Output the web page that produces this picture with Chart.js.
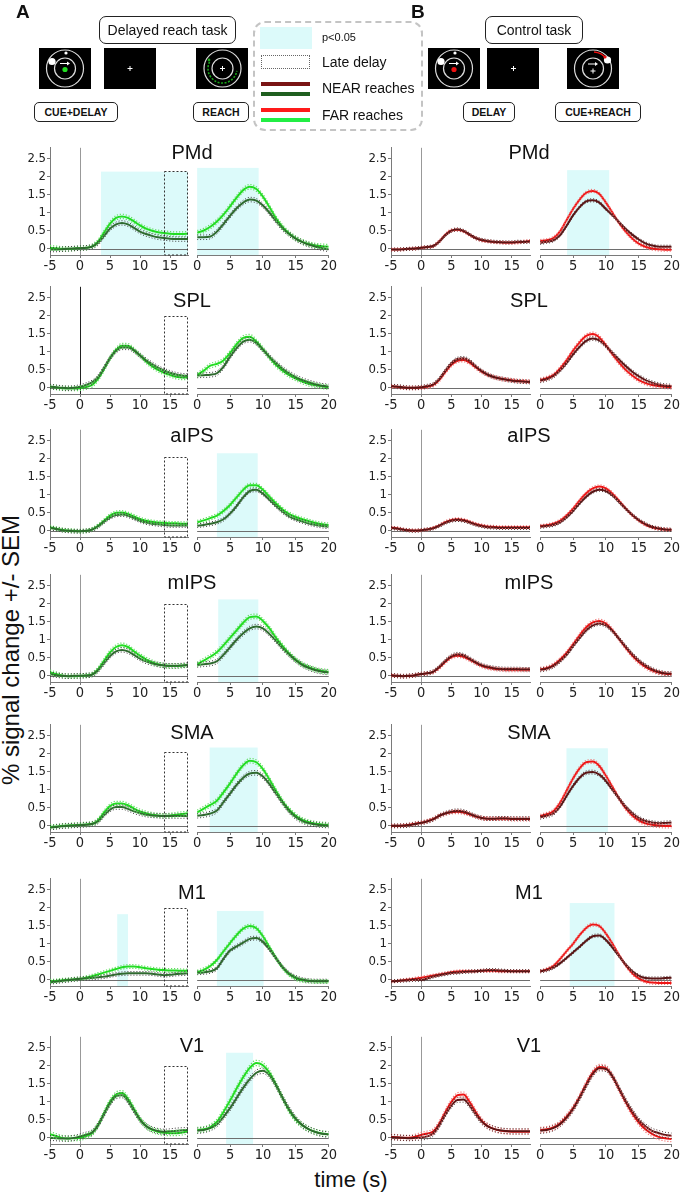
<!DOCTYPE html>
<html>
<head>
<meta charset="utf-8">
<script src="https://cdn.jsdelivr.net/npm/chart.js@4.4.0/dist/chart.umd.min.js"></script>
<style>
  body { margin: 0; background: #fff; font-family: 'Liberation Sans', Arial, sans-serif; color: #111; }
  #page { position: relative; width: 685px; height: 1201px; overflow: hidden; }
  canvas.sub { position: absolute; }
  .abs { position: absolute; white-space: nowrap; }
  .ttl { position: absolute; font-size: 20px; transform: translate(-50%, -50%); white-space: nowrap; }
  .task { position: absolute; border: 1.5px solid #222; border-radius: 7px; box-sizing: border-box;
          display: flex; align-items: center; justify-content: center; font-size: 14px; background: #fff; }
  .tag { position: absolute; border: 1.3px solid #222; border-radius: 5px; box-sizing: border-box;
         display: flex; align-items: center; justify-content: center; font-size: 10.5px; font-weight: bold; }
  .leg { position: absolute; font-size: 14px; transform: translateY(-50%); white-space: nowrap; }
</style>
</head>
<body>
<div id="page">
  <canvas id="icons" width="685" height="100" style="position:absolute;left:0;top:0"></canvas>
  <div class="abs" style="left:16px;top:1px;font-size:19px;font-weight:bold">A</div>
  <div class="abs" style="left:411px;top:1px;font-size:19px;font-weight:bold">B</div>
  <div class="task" style="left:99px;top:16px;width:137px;height:28px">Delayed reach task</div>
  <div class="task" style="left:485px;top:16px;width:98px;height:28px">Control task</div>
  <div class="tag" style="left:34px;top:102px;width:84px;height:20px">CUE+DELAY</div>
  <div class="tag" style="left:193px;top:102px;width:56px;height:20px">REACH</div>
  <div class="tag" style="left:463px;top:102px;width:52px;height:20px">DELAY</div>
  <div class="tag" style="left:555px;top:102px;width:86px;height:20px">CUE+REACH</div>

  <div style="position:absolute;left:253px;top:21px;width:170px;height:110px;box-sizing:border-box;border:2px dashed #c4c4c4;border-radius:12px"></div>
  <div style="position:absolute;left:260px;top:27px;width:52px;height:22px;background:rgb(220,250,250)"></div>
  <div class="leg" style="left:322px;top:37px;font-size:11px">p&lt;0.05</div>
  <div style="position:absolute;left:261px;top:55px;width:49px;height:14px;box-sizing:border-box;border:1px dotted #666"></div>
  <div class="leg" style="left:322px;top:62px">Late delay</div>
  <div style="position:absolute;left:261px;top:82px;width:49px;height:4px;background:#7a1414"></div>
  <div style="position:absolute;left:261px;top:92px;width:49px;height:4px;background:#1f5f1f"></div>
  <div class="leg" style="left:322px;top:88px">NEAR reaches</div>
  <div style="position:absolute;left:261px;top:108px;width:49px;height:4px;background:#ff1a1a"></div>
  <div style="position:absolute;left:261px;top:118px;width:49px;height:4px;background:#22ee44"></div>
  <div class="leg" style="left:322px;top:115px">FAR reaches</div>

  <div class="abs" style="left:11px;top:650px;font-size:24px;transform:translate(-50%,-50%) rotate(-90deg)">% signal change +/- SEM</div>
  <div class="abs" style="left:351px;top:1180px;font-size:22px;transform:translate(-50%,-50%)">time (s)</div>
</div>
<script>
// time axes (s)
const tDelay = [-5,-4,-3,-2,-1,0,1,2,3,4,5,6,7,8,9,10,11,12,13,14,15,16,17,18];
const tReach = [0,1,2,3,4,5,6,7,8,9,10,11,12,13,14,15,16,17,18,19,20];
const delayTicks = [-5, 0, 5, 10, 15];
const reachTicks = [0, 5, 10, 15, 20];
const yTicks = [0, 0.5, 1, 1.5, 2, 2.5];
const regions = ['PMd', 'SPL', 'aIPS', 'mIPS', 'SMA', 'M1', 'V1'];

// A = delayed reach task (green), B = control task (red)
const pmdDelayNearA = [-0.02,-0.02,-0.01,0,0.01,0.02,0.03,0.06,0.16,0.36,0.56,0.68,0.72,0.68,0.58,0.48,0.41,0.36,0.32,0.3,0.28,0.27,0.27,0.27];
const pmdDelayFarA  = [0.03,0.02,0,0,0.01,0.02,0.03,0.07,0.2,0.45,0.7,0.86,0.9,0.86,0.76,0.65,0.56,0.5,0.46,0.44,0.42,0.41,0.41,0.42];
const pmdReachNearA = [0.3,0.3,0.32,0.45,0.65,0.87,1.07,1.22,1.3,1.27,1.14,0.95,0.73,0.53,0.38,0.26,0.17,0.1,0.05,0.01,-0.02];
const pmdReachFarA  = [0.42,0.48,0.58,0.72,0.9,1.12,1.35,1.55,1.64,1.58,1.38,1.1,0.8,0.57,0.4,0.27,0.18,0.12,0.08,0.06,0.05];
const pmdDelayNearB = [-0.02,-0.02,-0.01,0,0.01,0.03,0.05,0.08,0.2,0.38,0.5,0.54,0.5,0.4,0.3,0.25,0.22,0.2,0.19,0.18,0.18,0.2,0.19,0.2];
const pmdDelayFarB  = [-0.02,-0.02,-0.01,0,0.01,0.03,0.05,0.08,0.21,0.39,0.51,0.53,0.49,0.39,0.3,0.24,0.21,0.19,0.18,0.17,0.17,0.18,0.2,0.22];
const pmdReachNearB = [0.15,0.18,0.22,0.35,0.6,0.88,1.1,1.25,1.28,1.22,1.05,0.88,0.7,0.52,0.37,0.24,0.14,0.08,0.05,0.05,0.05];
const pmdReachFarB  = [0.2,0.22,0.28,0.45,0.75,1.05,1.3,1.48,1.53,1.45,1.22,0.95,0.68,0.45,0.27,0.13,0.05,0,-0.02,-0.03,-0.03];

const splDelayNearA = [0.04,0.02,0,-0.01,0,0.03,0.08,0.15,0.3,0.55,0.82,1.02,1.12,1.12,1.03,0.9,0.77,0.66,0.56,0.48,0.42,0.37,0.34,0.33];
const splDelayFarA  = [0.03,0.01,-0.01,-0.02,-0.02,-0.01,0.02,0.08,0.25,0.52,0.82,1.05,1.17,1.17,1.05,0.9,0.74,0.6,0.5,0.42,0.36,0.31,0.29,0.29];
const splReachNearA = [0.32,0.33,0.34,0.38,0.55,0.82,1.05,1.22,1.27,1.18,1,0.82,0.65,0.5,0.38,0.28,0.2,0.14,0.09,0.05,0.03];
const splReachFarA  = [0.33,0.45,0.58,0.63,0.72,0.92,1.15,1.32,1.35,1.22,1.02,0.8,0.6,0.45,0.33,0.24,0.16,0.1,0.06,0.03,0.01];
const splDelayNearB = [0.05,0.04,0.02,0,0,0.02,0.05,0.1,0.25,0.48,0.68,0.8,0.82,0.75,0.6,0.47,0.37,0.3,0.26,0.23,0.2,0.18,0.17,0.16];
const splDelayFarB  = [0.04,0.03,0.01,0,0,0.01,0.03,0.08,0.22,0.44,0.64,0.75,0.77,0.7,0.57,0.45,0.36,0.3,0.26,0.23,0.21,0.19,0.18,0.17];
const splReachNearB = [0.18,0.22,0.3,0.45,0.65,0.88,1.08,1.24,1.3,1.25,1.1,0.92,0.74,0.57,0.42,0.3,0.2,0.13,0.08,0.05,0.04];
const splReachFarB  = [0.2,0.25,0.33,0.5,0.72,0.98,1.2,1.37,1.42,1.33,1.12,0.88,0.66,0.47,0.32,0.2,0.12,0.07,0.04,0.02,0.01];

const aipsDelayNearA = [0.08,0.05,0.02,0,-0.01,-0.01,0,0.03,0.12,0.25,0.37,0.44,0.45,0.42,0.35,0.28,0.23,0.2,0.18,0.16,0.15,0.15,0.15,0.15];
const aipsDelayFarA  = [0.1,0.06,0.03,0.01,0,-0.01,0,0.04,0.14,0.28,0.42,0.5,0.51,0.47,0.4,0.33,0.28,0.25,0.23,0.22,0.21,0.21,0.2,0.2];
const aipsReachNearA = [0.13,0.15,0.18,0.22,0.3,0.45,0.65,0.88,1.05,1.08,0.98,0.82,0.65,0.5,0.38,0.3,0.24,0.19,0.15,0.12,0.1];
const aipsReachFarA  = [0.22,0.27,0.33,0.4,0.52,0.68,0.88,1.08,1.2,1.2,1.08,0.9,0.72,0.56,0.44,0.36,0.3,0.25,0.2,0.17,0.15];
const aipsDelayNearB = [0.08,0.06,0.03,0.01,0,0.02,0.04,0.07,0.14,0.22,0.28,0.3,0.28,0.23,0.17,0.13,0.1,0.09,0.08,0.08,0.08,0.08,0.08,0.08];
const aipsDelayFarB  = [0.09,0.07,0.04,0.02,0.01,0.02,0.04,0.08,0.15,0.24,0.3,0.32,0.3,0.25,0.19,0.15,0.12,0.11,0.1,0.1,0.1,0.1,0.1,0.1];
const aipsReachNearB = [0.1,0.12,0.15,0.22,0.35,0.52,0.72,0.9,1.03,1.08,1.05,0.93,0.76,0.58,0.42,0.28,0.18,0.1,0.06,0.03,0.02];
const aipsReachFarB  = [0.12,0.14,0.18,0.26,0.4,0.58,0.8,0.99,1.12,1.17,1.12,0.98,0.79,0.59,0.41,0.27,0.16,0.09,0.05,0.03,0.02];

const mipsDelayNearA = [0.05,0.02,0,-0.01,0,0,0.01,0.03,0.15,0.35,0.55,0.68,0.72,0.68,0.58,0.48,0.4,0.35,0.31,0.29,0.28,0.28,0.29,0.3];
const mipsDelayFarA  = [0.1,0.05,0.01,-0.01,-0.01,0,0.01,0.04,0.18,0.42,0.65,0.8,0.85,0.8,0.68,0.56,0.46,0.38,0.32,0.29,0.27,0.27,0.28,0.3];
const mipsReachNearA = [0.28,0.3,0.32,0.38,0.55,0.75,0.95,1.12,1.25,1.3,1.25,1.1,0.92,0.72,0.55,0.4,0.28,0.2,0.14,0.1,0.08];
const mipsReachFarA  = [0.3,0.4,0.5,0.62,0.8,1,1.2,1.4,1.55,1.57,1.45,1.25,1,0.78,0.58,0.42,0.3,0.22,0.16,0.12,0.1];
const mipsDelayNearB = [0.02,0,-0.01,0,0.02,0.05,0.07,0.12,0.25,0.42,0.55,0.6,0.57,0.48,0.38,0.3,0.25,0.22,0.2,0.19,0.19,0.19,0.18,0.18];
const mipsDelayFarB  = [0.02,0,-0.01,0,0.02,0.05,0.07,0.11,0.23,0.39,0.52,0.56,0.53,0.45,0.36,0.28,0.23,0.2,0.18,0.17,0.17,0.17,0.17,0.17];
const mipsReachNearB = [0.15,0.18,0.25,0.38,0.55,0.78,1,1.2,1.33,1.38,1.33,1.18,0.98,0.77,0.57,0.4,0.27,0.17,0.1,0.06,0.05];
const mipsReachFarB  = [0.17,0.2,0.28,0.42,0.6,0.83,1.07,1.28,1.41,1.45,1.38,1.2,0.97,0.74,0.53,0.36,0.23,0.14,0.08,0.05,0.04];

const smaDelayNearA = [-0.05,-0.03,-0.01,0,0.01,0.02,0.03,0.05,0.12,0.3,0.45,0.52,0.52,0.47,0.4,0.35,0.31,0.29,0.28,0.27,0.27,0.27,0.27,0.28];
const smaDelayFarA  = [-0.03,-0.02,0,0.01,0.02,0.03,0.04,0.06,0.15,0.37,0.55,0.62,0.62,0.57,0.48,0.4,0.35,0.31,0.29,0.28,0.29,0.31,0.33,0.35];
const smaReachNearA = [0.26,0.28,0.32,0.4,0.62,0.85,1.08,1.27,1.38,1.4,1.3,1.1,0.85,0.6,0.38,0.22,0.12,0.06,0.03,0.01,0];
const smaReachFarA  = [0.35,0.45,0.55,0.66,0.88,1.12,1.38,1.6,1.72,1.68,1.5,1.22,0.92,0.64,0.42,0.26,0.15,0.09,0.05,0.03,0.02];
const smaDelayNearB = [0,0,0,0.02,0.05,0.08,0.12,0.18,0.28,0.35,0.4,0.42,0.4,0.34,0.27,0.22,0.2,0.2,0.21,0.21,0.2,0.2,0.2,0.2];
const smaDelayFarB  = [0,0,0.01,0.03,0.06,0.09,0.13,0.19,0.28,0.34,0.38,0.39,0.37,0.32,0.26,0.22,0.2,0.2,0.2,0.2,0.19,0.19,0.19,0.19];
const smaReachNearB = [0.22,0.26,0.32,0.5,0.78,1.05,1.27,1.4,1.42,1.35,1.18,0.95,0.72,0.5,0.33,0.2,0.12,0.08,0.06,0.07,0.08];
const smaReachFarB  = [0.25,0.3,0.38,0.6,0.92,1.25,1.52,1.68,1.7,1.58,1.32,1.02,0.72,0.46,0.27,0.14,0.06,0.02,0,-0.01,-0.01];

const m1DelayNearA = [-0.07,-0.05,-0.03,-0.01,0.01,0.03,0.04,0.05,0.07,0.09,0.12,0.15,0.17,0.18,0.18,0.18,0.18,0.17,0.15,0.13,0.14,0.16,0.17,0.18];
const m1DelayFarA  = [-0.04,-0.03,-0.01,0,0.02,0.03,0.06,0.1,0.15,0.2,0.25,0.3,0.35,0.37,0.37,0.35,0.32,0.3,0.28,0.27,0.26,0.26,0.25,0.25];
const m1ReachNearA = [0.18,0.19,0.22,0.3,0.55,0.77,0.88,0.98,1.08,1.1,1,0.8,0.56,0.33,0.16,0.06,0,-0.03,-0.04,-0.04,-0.04];
const m1ReachFarA  = [0.2,0.26,0.36,0.52,0.75,0.97,1.18,1.35,1.42,1.36,1.15,0.86,0.57,0.32,0.14,0.03,-0.02,-0.04,-0.05,-0.05,-0.05];
const m1DelayNearB = [-0.04,-0.03,-0.02,-0.01,0,0,0.04,0.09,0.13,0.16,0.19,0.2,0.22,0.23,0.24,0.25,0.27,0.27,0.26,0.25,0.24,0.24,0.24,0.24];
const m1DelayFarB  = [-0.04,-0.03,-0.01,0.01,0.03,0.06,0.09,0.12,0.15,0.18,0.21,0.23,0.24,0.24,0.24,0.25,0.25,0.25,0.24,0.24,0.24,0.24,0.24,0.24];
const m1ReachNearB = [0.22,0.25,0.32,0.43,0.57,0.72,0.87,1.03,1.15,1.17,1.05,0.85,0.62,0.4,0.22,0.1,0.04,0.03,0.03,0.04,0.05];
const m1ReachFarB  = [0.22,0.27,0.36,0.54,0.75,0.95,1.18,1.37,1.46,1.42,1.22,0.95,0.65,0.38,0.17,0.03,-0.05,-0.08,-0.09,-0.09,-0.09];

const v1DelayNearA = [0,-0.01,-0.02,-0.02,0,0.04,0.09,0.15,0.35,0.65,0.95,1.15,1.18,1.02,0.75,0.5,0.33,0.24,0.19,0.17,0.18,0.2,0.21,0.22];
const v1DelayFarA  = [0.1,0.05,0,-0.02,-0.01,0,0.05,0.13,0.35,0.68,1,1.2,1.24,1.08,0.8,0.52,0.33,0.22,0.17,0.14,0.13,0.13,0.15,0.18];
const v1ReachNearA = [0.18,0.2,0.25,0.35,0.55,0.78,1.05,1.32,1.55,1.72,1.77,1.65,1.38,1.05,0.75,0.5,0.33,0.22,0.15,0.1,0.08];
const v1ReachFarA  = [0.2,0.22,0.28,0.42,0.68,0.98,1.3,1.6,1.85,1.98,1.92,1.72,1.4,1.05,0.72,0.48,0.32,0.22,0.15,0.11,0.09];
const v1DelayNearB = [0.02,0.01,0,-0.01,0,0.01,0.04,0.12,0.35,0.65,0.9,1.05,1.06,0.9,0.66,0.45,0.32,0.25,0.21,0.19,0.18,0.18,0.18,0.18];
const v1DelayFarB  = [0.03,0.02,0,0,0.03,0.08,0.12,0.18,0.4,0.72,1,1.18,1.2,1,0.72,0.48,0.33,0.25,0.2,0.18,0.17,0.17,0.17,0.17];
const v1ReachNearB = [0.18,0.2,0.25,0.35,0.52,0.75,1.05,1.38,1.68,1.84,1.82,1.62,1.3,0.98,0.7,0.46,0.3,0.18,0.12,0.07,0.05];
const v1ReachFarB  = [0.2,0.22,0.27,0.37,0.55,0.78,1.08,1.42,1.72,1.87,1.84,1.62,1.28,0.94,0.64,0.4,0.22,0.1,0.02,-0.02,-0.04];

// standard error (half-width of the dotted envelope), per region
const semA = [0.06, 0.06, 0.05, 0.06, 0.06, 0.05, 0.07];
const semB = [0.04, 0.05, 0.04, 0.05, 0.05, 0.04, 0.07];

// p<0.05 windows: [start, end, top], per region
const sigDelayA = [[[3.5, 18, 2.14]], [], [], [], [], [[6.2, 8, 1.82]], []];
const sigReachA = [[[0, 9.35, 2.14]], [], [[3, 9.2, 2.05]], [[3.2, 9.3, 2.02]], [[1.9, 9.2, 2.07]], [[3, 10.1, 1.82]], [[4.4, 8.5, 2.25]]];
const sigDelayB = [[], [], [], [], [], [], []];
const sigReachB = [[[4.1, 10.5, 2.08]], [], [], [], [[4, 10.3, 2.05]], [[4.5, 11.3, 2.03]], []];
const lateDelay = [14, 18];
const lateDelayTop = [2.15, 2.0, 2.05, 2.0, 2.05, 2.0, 2.0];

const seriesA = [
  [pmdDelayNearA, pmdDelayFarA, pmdReachNearA, pmdReachFarA],
  [splDelayNearA, splDelayFarA, splReachNearA, splReachFarA],
  [aipsDelayNearA, aipsDelayFarA, aipsReachNearA, aipsReachFarA],
  [mipsDelayNearA, mipsDelayFarA, mipsReachNearA, mipsReachFarA],
  [smaDelayNearA, smaDelayFarA, smaReachNearA, smaReachFarA],
  [m1DelayNearA, m1DelayFarA, m1ReachNearA, m1ReachFarA],
  [v1DelayNearA, v1DelayFarA, v1ReachNearA, v1ReachFarA]
];
const seriesB = [
  [pmdDelayNearB, pmdDelayFarB, pmdReachNearB, pmdReachFarB],
  [splDelayNearB, splDelayFarB, splReachNearB, splReachFarB],
  [aipsDelayNearB, aipsDelayFarB, aipsReachNearB, aipsReachFarB],
  [mipsDelayNearB, mipsDelayFarB, mipsReachNearB, mipsReachFarB],
  [smaDelayNearB, smaDelayFarB, smaReachNearB, smaReachFarB],
  [m1DelayNearB, m1DelayFarB, m1ReachNearB, m1ReachFarB],
  [v1DelayNearB, v1DelayFarB, v1ReachNearB, v1ReachFarB]
];

// layout
const rowZero = [248, 387, 530, 675, 825, 979, 1137];
const titleOff = [96, 87, 95, 93, 93, 87, 92];
const PX = 37.6;           // pixels per unit of signal
const Y_MIN = -0.17, Y_MAX = 2.8;
const cols = [
  { delay: [50, 188], reach: [195, 334], title: 192 },
  { delay: [391, 530], reach: [538, 677], title: 529 }
];
const colors = {
  A: { near: '#2f6a2f', far: '#22dd22', semNear: '#3c3c3c', semFar: '#62dd62' },
  B: { near: '#5a1515', far: '#ee1515', semNear: '#4a2a2a', semFar: '#f07878' }
};
const SHADE = 'rgb(220,250,250)';
const FONT = "'Liberation Sans Narrow','DejaVu Sans Condensed','Liberation Sans',Arial,sans-serif";

const marks = {
  id: 'marks',
  beforeDatasetsDraw(chart, args, o) {
    const { ctx, chartArea: a, scales: { x, y } } = chart;
    ctx.save();
    ctx.fillStyle = SHADE;
    (o.shade || []).forEach(([s, e, top]) => {
      const x0 = x.getPixelForValue(s), x1 = x.getPixelForValue(e), yt = y.getPixelForValue(top);
      ctx.fillRect(x0, yt, x1 - x0, a.bottom - yt);
    });
    ctx.lineWidth = 1;
    if (o.vline) {
      const vx = Math.round(x.getPixelForValue(0)) + 0.5;
      ctx.strokeStyle = o.vline;
      ctx.beginPath(); ctx.moveTo(vx, a.top); ctx.lineTo(vx, a.bottom); ctx.stroke();
    }
    const y0 = Math.round(y.getPixelForValue(0)) + 0.5;
    ctx.strokeStyle = '#6e6e6e';
    ctx.beginPath(); ctx.moveTo(a.left, y0); ctx.lineTo(a.right, y0); ctx.stroke();
    ctx.restore();
  },
  afterDatasetsDraw(chart, args, o) {
    if (!o.box) return;
    const { ctx, chartArea: a, scales: { x, y } } = chart;
    const x0 = Math.round(x.getPixelForValue(o.box[0])) + 0.5, x1 = Math.round(x.getPixelForValue(o.box[1])) - 0.5;
    const yt = Math.round(y.getPixelForValue(o.box[2])) + 0.5;
    ctx.save();
    ctx.strokeStyle = '#333'; ctx.lineWidth = 1; ctx.setLineDash([2, 2]);
    ctx.strokeRect(x0, yt, x1 - x0, a.bottom - yt);
    ctx.restore();
  }
};

function line(t, v, color, width, dash) {
  return {
    data: t.map((x, i) => ({ x, y: v[i] })),
    borderColor: color, borderWidth: width, borderDash: dash || [],
    pointRadius: 0, fill: false, cubicInterpolationMode: 'monotone'
  };
}

function subplot(row, span, range, xTicks, t, near, far, sem, pal, opts) {
  const padL = opts.showY ? 30 : 2, padR = 3, padT = 4, padB = 22;
  const top = Math.round(rowZero[row] - Y_MAX * PX);
  const h = Math.round((Y_MAX - Y_MIN) * PX);
  const cv = document.createElement('canvas');
  cv.className = 'sub';
  cv.width = span[1] - span[0] + padL + padR;
  cv.height = h + padT + padB;
  cv.style.left = (span[0] - padL) + 'px';
  cv.style.top = (top - padT) + 'px';
  document.getElementById('page').appendChild(cv);
  const up = v => v.map(a => a + sem), dn = v => v.map(a => a - sem);
  new Chart(cv, {
    type: 'line',
    data: {
      datasets: [
        line(t, up(near), pal.semNear, 1, [1, 2]),
        line(t, dn(near), pal.semNear, 1, [1, 2]),
        line(t, up(far), pal.semFar, 1.2, [1.2, 1.8]),
        line(t, dn(far), pal.semFar, 1.2, [1.2, 1.8]),
        line(t, near, pal.near, 2),
        line(t, far, pal.far, 2)
      ]
    },
    options: {
      responsive: false, animation: false, events: [],
      layout: { padding: { left: opts.showY ? 0 : padL, right: padR, top: padT, bottom: 0 } },
      plugins: { legend: { display: false }, tooltip: { enabled: false }, marks: opts.marks },
      scales: {
        x: {
          type: 'linear', min: range[0], max: range[1],
          afterBuildTicks: s => { s.ticks = xTicks.map(v => ({ value: v })); },
          afterFit: s => { s.height = padB; },
          grid: { display: true, drawOnChartArea: false, tickLength: 3, color: '#777' },
          border: { display: true, color: '#7a7a7a', width: 1 },
          ticks: { color: '#222', padding: 0, maxRotation: 0, font: { family: FONT, size: 14.5 }, callback: v => String(v) }
        },
        y: {
          display: opts.showY, min: Y_MIN, max: Y_MAX,
          afterBuildTicks: s => { s.ticks = yTicks.map(v => ({ value: v })); },
          afterFit: s => { s.width = padL; },
          grid: { display: true, drawOnChartArea: false, tickLength: 3, color: '#777' },
          border: { display: true, color: '#7a7a7a', width: 1 },
          ticks: { color: '#222', padding: 1, font: { family: FONT, size: 13 }, callback: v => String(v) }
        }
      }
    },
    plugins: [marks]
  });
}

function title(text, x, y) {
  const d = document.createElement('div');
  d.className = 'ttl'; d.textContent = text;
  d.style.left = x + 'px'; d.style.top = y + 'px';
  document.getElementById('page').appendChild(d);
}

regions.forEach((name, r) => {
  [['A', seriesA, semA, sigDelayA, sigReachA], ['B', seriesB, semB, sigDelayB, sigReachB]].forEach(([task, series, sem, sigD, sigR], c) => {
    const col = cols[c], pal = colors[task], s = series[r];
    const vline = (task === 'A' && name === 'SPL') ? '#222' : '#999';
    subplot(r, col.delay, [-5, 18], delayTicks, tDelay, s[0], s[1], sem[r], pal,
      { showY: true, marks: { shade: sigD[r], vline, box: task === 'A' ? [lateDelay[0], lateDelay[1], lateDelayTop[r]] : null } });
    subplot(r, col.reach, [0, 20], reachTicks, tReach, s[2], s[3], sem[r], pal,
      { showY: false, marks: { shade: sigR[r] } });
    title(name, col.title, rowZero[r] - titleOff[r]);
  });
});

// task screen icons
(function () {
  const ctx = document.getElementById('icons').getContext('2d');
  function screen(x, y) { ctx.fillStyle = '#000'; ctx.fillRect(x, y, 52, 41); }
  function ring(cx, cy, r) { ctx.strokeStyle = '#ddd'; ctx.lineWidth = 1.2; ctx.beginPath(); ctx.arc(cx, cy, r, 0, 2 * Math.PI); ctx.stroke(); }
  function dot(cx, cy, r, col) { ctx.fillStyle = col; ctx.beginPath(); ctx.arc(cx, cy, r, 0, 2 * Math.PI); ctx.fill(); }
  function cross(cx, cy) { ctx.strokeStyle = '#fff'; ctx.lineWidth = 1; ctx.beginPath(); ctx.moveTo(cx - 2.5, cy); ctx.lineTo(cx + 2.5, cy); ctx.moveTo(cx, cy - 2.5); ctx.lineTo(cx, cy + 2.5); ctx.stroke(); }
  function arrow(cx, cy) { ctx.strokeStyle = '#fff'; ctx.fillStyle = '#fff'; ctx.lineWidth = 1; ctx.beginPath(); ctx.moveTo(cx - 5, cy); ctx.lineTo(cx + 3, cy); ctx.stroke(); ctx.beginPath(); ctx.moveTo(cx + 5, cy); ctx.lineTo(cx + 2, cy - 2); ctx.lineTo(cx + 2, cy + 2); ctx.fill(); }
  function cueScreen(x, y, col) {
    screen(x, y); const cx = x + 26, cy = y + 20.5;
    ring(cx, cy, 18.5); ring(cx, cy, 10.5);
    dot(cx + 1, cy - 15.5, 1.6, '#fff'); dot(cx - 13, cy - 7, 3.6, '#fff');
    arrow(cx, cy - 5); dot(cx, cy + 1, 2.6, col);
  }
  cueScreen(39, 48, '#22dd22');
  screen(104, 48); cross(130, 68.5);
  screen(196, 48);
  ring(222.5, 68.5, 18.5); ring(222.5, 68.5, 10.5); cross(222.5, 68.5);
  ctx.strokeStyle = '#1aa51a'; ctx.lineWidth = 1.6; ctx.setLineDash([2, 1.5]);
  ctx.beginPath(); ctx.arc(222.5, 68.5, 14.5, 1.15 * Math.PI, 0.05 * Math.PI, true); ctx.stroke();
  ctx.setLineDash([]);
  dot(209, 60, 1.4, '#1aa51a');
  cueScreen(428, 48, '#ee1111');
  screen(487, 48); cross(513.5, 68.5);
  screen(567, 48);
  ring(593, 68.5, 18.5); ring(593, 68.5, 10.5);
  ctx.strokeStyle = '#ee1111'; ctx.lineWidth = 1.4;
  ctx.beginPath(); ctx.arc(593, 68.5, 16.5, 1.52 * Math.PI, 1.8 * Math.PI); ctx.stroke();
  dot(607.5, 60, 3.6, '#fff'); dot(605, 57, 1.6, '#ee1111');
  arrow(593, 64); cross(593, 71);
})();
</script>
</body>
</html>
